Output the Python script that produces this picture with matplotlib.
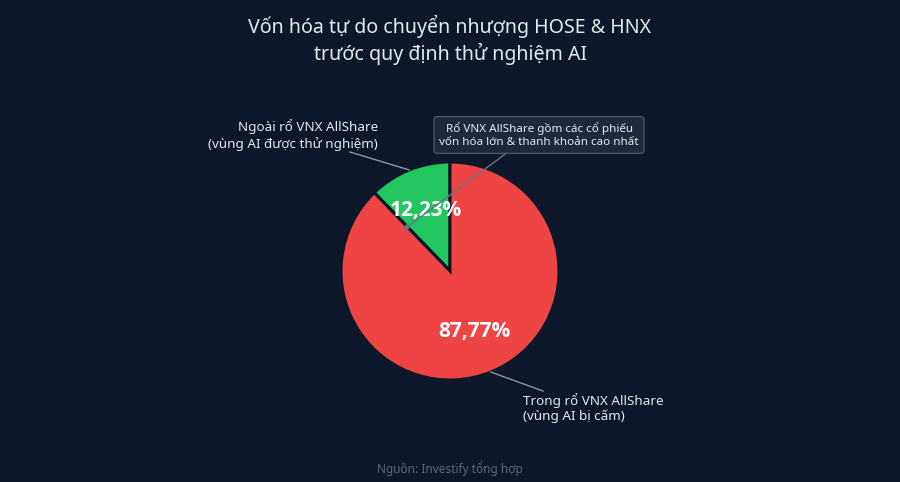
import numpy as np
import matplotlib.pyplot as plt

plt.rcParams['font.family'] = ['Noto Sans', 'DejaVu Sans']

# data
segments = ['Ngoài rổ VNX AllShare\n(vùng AI được thử nghiệm)',
            'Trong rổ VNX AllShare\n(vùng AI bị cấm)']
shares = [12.23, 87.77]
colors = ['#22c55e', '#ef4444']
title = 'Vốn hóa tự do chuyển nhượng HOSE & HNX\ntrước quy định thử nghiệm AI'
note = 'Rổ VNX AllShare gồm các cổ phiếu\nvốn hóa lớn & thanh khoản cao nhất'
source = 'Nguồn: Investify tổng hợp'

bg = '#0d172a'
W, H = 900, 482

fig = plt.figure(figsize=(W / 100, H / 100), dpi=100, facecolor=bg)
ax = fig.add_axes([0, 0, 1, 1])
ax.set_facecolor(bg)

# work in pixel-like units, y measured from the bottom
def py(y):
    return H - y

cx, cy, r = 450, py(271), 109

wedges, texts, autotexts = ax.pie(
    shares, colors=colors, startangle=90, counterclock=True,
    center=(cx, cy), radius=r,
    autopct=lambda p: f'{p:.2f}%'.replace('.', ','),
    pctdistance=0.6,
    wedgeprops=dict(edgecolor=bg, linewidth=2.2),
    textprops=dict(color='white', fontsize=15, fontweight='bold',
                   family=['Open Sans', 'DejaVu Sans']))

ax.set_xlim(0, W)
ax.set_ylim(0, H)
ax.set_aspect('auto')
ax.axis('off')

def edge_point(w, rr=1.0):
    a = np.deg2rad((w.theta1 + w.theta2) / 2)
    return cx + rr * r * np.cos(a), cy + rr * r * np.sin(a)

line_col = '#8a96a8'

# green slice label
gx, gy = edge_point(wedges[0])
ax.plot([350, gx], [py(152), gy], color=line_col, lw=1)
ax.text(378, py(135), segments[0], ha='right', va='center',
        color='#e5e7eb', fontsize=9.7, linespacing=1.2)

# red slice label
rx, ry = edge_point(wedges[1])
ax.plot([rx, 543], [ry, py(391)], color=line_col, lw=1)
ax.text(523, py(408), segments[1], ha='left', va='center',
        color='#e5e7eb', fontsize=9.7, linespacing=1.2)

# note box with arrow into the slice boundary
ax.annotate(note, xy=(403, py(230)), xytext=(539, py(135)),
            ha='center', va='center', color='#e2e8f0', fontsize=8.4,
            linespacing=1.3,
            bbox=dict(boxstyle='round,pad=0.45,rounding_size=0.3',
                      fc='#1e293b', ec='#475569', lw=1),
            arrowprops=dict(arrowstyle='-|>', color='#64748b', lw=1,
                            mutation_scale=8, shrinkA=0, shrinkB=0,
                            relpos=(0.37, 0.0)))

fig.text(0.5, 1 - 40 / H, title, ha='center', va='center',
         color='#e5e7eb', fontsize=14.1, linespacing=1.25)
fig.text(0.5, 1 - 469 / H, source, ha='center', va='center',
         color='#5b6678', fontsize=8.5)

fig.savefig('out.png', dpi=100, facecolor=bg)
